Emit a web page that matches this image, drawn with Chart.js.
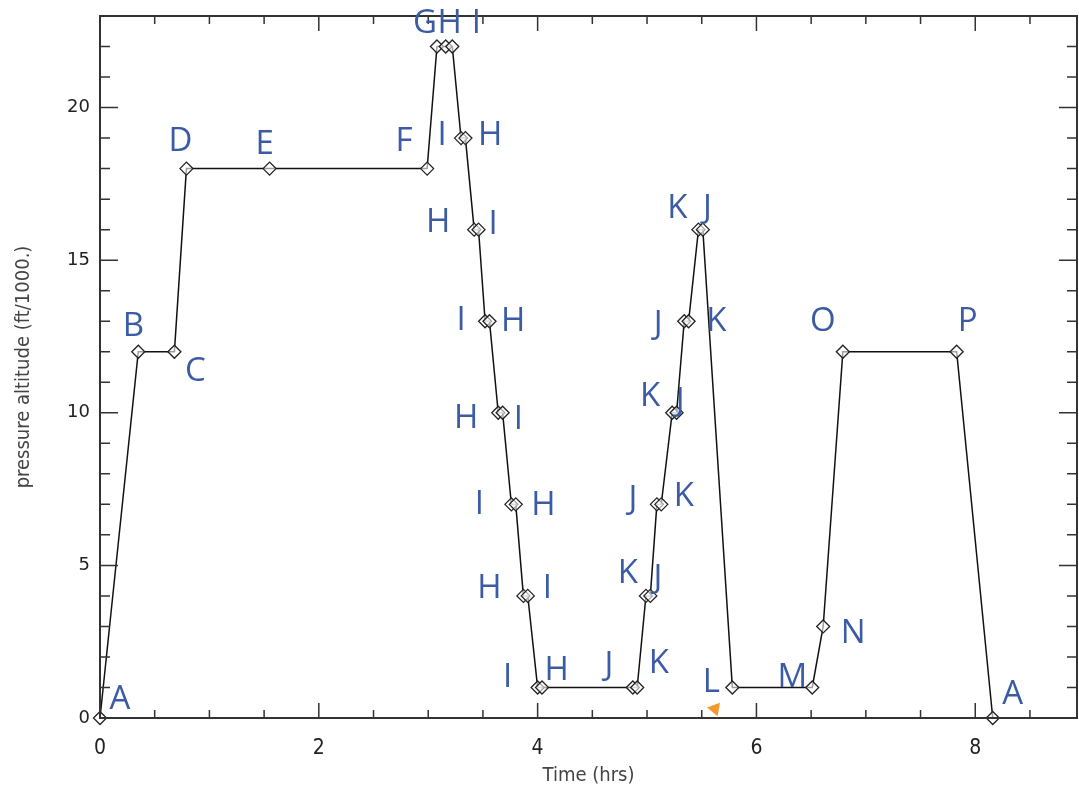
<!DOCTYPE html>
<html>
<head>
<meta charset="utf-8">
<script src="https://cdn.jsdelivr.net/npm/chart.js@4"></script>
<style>
  body { margin: 0; background: #fff; }
  #wrap { width: 1079px; height: 794px; }
</style>
</head>
<body>
<div id="wrap"><canvas id="flightChart" width="1079" height="794"></canvas></div>
<script>
// flight profile: time (hrs) vs pressure altitude (ft/1000)
const times = [0, 0.35, 0.68, 0.79, 1.55, 2.99, 3.08, 3.16, 3.22,
  3.30, 3.34, 3.42, 3.46, 3.52, 3.56, 3.64, 3.68, 3.76, 3.80, 3.87, 3.91, 4.00, 4.04,
  4.87, 4.91, 4.99, 5.03, 5.09, 5.13, 5.23, 5.27, 5.34, 5.38, 5.47, 5.51,
  5.78, 6.51, 6.61, 6.79, 7.83, 8.16];
const altitudes = [0, 12, 12, 18, 18, 18, 22, 22, 22,
  19, 19, 16, 16, 13, 13, 10, 10, 7, 7, 4, 4, 1, 1,
  1, 1, 4, 4, 7, 7, 10, 10, 13, 13, 16, 16,
  1, 1, 3, 12, 12, 0];

// orange marker near L
const markerTime = [5.62];
const markerAlt = [0.3];

const xTicks = [0, 2, 4, 6, 8];
const yTicks = [0, 5, 10, 15, 20];

// waypoint letters, attached to a point index
const labelText = ['A', 'B', 'C', 'D', 'E', 'F', 'G', 'H', 'I',
  'I', 'H', 'H', 'I', 'I', 'H', 'H', 'I', 'I', 'H', 'H', 'I', 'I', 'H',
  'J', 'K', 'K', 'J', 'J', 'K', 'K', 'J', 'J', 'K', 'K', 'J',
  'L', 'M', 'N', 'O', 'P', 'A'];
const labelPoint = [0, 1, 2, 3, 4, 5, 6, 7, 8,
  9, 9, 11, 11, 13, 13, 15, 15, 17, 17, 19, 19, 21, 21,
  23, 23, 25, 25, 27, 27, 29, 29, 31, 31, 33, 33,
  35, 36, 37, 38, 39, 40];
// pixel offsets of each letter from its point
const labelOffset = [[20, -18], [-5, -25], [21, 20], [-6, -27], [-5, -24], [-23, -27], [-12, -23], [4, -23], [24, -23],
  [-19, -2], [29, -2], [-36, -7], [19, -5], [-24, -1], [28, 0], [-32, 6], [20, 7], [-32, 0], [32, 1], [-34, -7], [24, -7], [-30, -10], [19, -17],
  [-24, -22], [26, -24], [-18, -22], [12, -17], [-24, -5], [27, -8], [-22, -16], [8, -11], [-26, 3], [32, 0], [-21, -21], [9, -21],
  [-21, -5], [-20, -10], [30, 7], [-20, -30], [11, -30], [20, -23]];

const boxAndTicks = {
  id: 'boxAndTicks',
  afterDatasetsDraw(chart) {
    const ctx = chart.ctx;
    const a = chart.chartArea;
    const xs = chart.scales.x, ys = chart.scales.y;
    ctx.save();
    ctx.strokeStyle = '#333';
    ctx.lineWidth = 1.5;
    ctx.beginPath();
    for (let v = 0; v <= 23; v += 1) {
      const py = ys.getPixelForValue(v);
      const len = v % 5 === 0 ? 18 : 10;
      ctx.moveTo(a.left, py); ctx.lineTo(a.left + len, py);
      ctx.moveTo(a.right, py); ctx.lineTo(a.right - len, py);
    }
    for (let v = 0; v <= 9; v += 0.5) {
      const px = xs.getPixelForValue(v);
      if (px > a.right) break;
      const len = v % 2 === 0 ? 15 : 8;
      ctx.moveTo(px, a.bottom); ctx.lineTo(px, a.bottom - len);
      ctx.moveTo(px, a.top); ctx.lineTo(px, a.top + len);
    }
    ctx.stroke();
    ctx.lineWidth = 2;
    ctx.strokeRect(a.left, a.top, a.right - a.left, a.bottom - a.top);

    // waypoint letters
    const pts = chart.getDatasetMeta(0).data;
    ctx.fillStyle = '#3B5BA5';
    ctx.font = '33px "Open Sans", sans-serif';
    ctx.textAlign = 'center';
    ctx.textBaseline = 'middle';
    labelText.forEach((t, i) => {
      const p = pts[labelPoint[i]];
      ctx.fillText(t, p.x + labelOffset[i][0], p.y + labelOffset[i][1]);
    });
    ctx.restore();
  }
};

new Chart(document.getElementById('flightChart'), {
  type: 'scatter',
  data: {
    datasets: [{
      data: times.map((t, i) => ({ x: t, y: altitudes[i] })),
      showLine: true,
      borderColor: '#111',
      borderWidth: 1.5,
      pointStyle: 'rectRot',
      pointRadius: 6.5,
      pointBorderWidth: 1.3,
      pointBorderColor: '#222',
      pointBackgroundColor: 'rgba(255,255,255,0.6)',
      clip: false
    }, {
      data: markerTime.map((t, i) => ({ x: t, y: markerAlt[i] })),
      pointStyle: 'triangle',
      rotation: 160,
      pointRadius: 8,
      pointBorderWidth: 0,
      pointBackgroundColor: '#F39A2E',
      clip: false
    }]
  },
  options: {
    responsive: false,
    animation: false,
    layout: { autoPadding: false, padding: { top: 16, right: 2, left: 0, bottom: 0 } },
    plugins: { legend: { display: false }, tooltip: { enabled: false } },
    scales: {
      x: {
        type: 'linear', min: 0, max: 8.93,
        afterBuildTicks: s => { s.ticks = xTicks.map(v => ({ value: v })); },
        afterFit: s => { s.height = 76; s.paddingRight = 0; s.paddingLeft = 0; },
        grid: { display: false, drawTicks: false },
        border: { display: false },
        ticks: { padding: 18, color: '#222', font: { family: '"Liberation Sans Narrow", "DejaVu Sans Condensed", sans-serif', size: 21 } },
        title: { display: true, text: 'Time (hrs)', color: '#444', padding: { bottom: 6, top: 0 },
          font: { family: '"Liberation Sans Narrow", "DejaVu Sans Condensed", sans-serif', size: 20 } }
      },
      y: {
        type: 'linear', min: 0, max: 23,
        afterBuildTicks: s => { s.ticks = yTicks.map(v => ({ value: v })); },
        afterFit: s => { s.width = 100; s.paddingTop = 0; s.paddingBottom = 0; },
        grid: { display: false, drawTicks: false },
        border: { display: false },
        ticks: { padding: 10, color: '#222', font: { family: '"DejaVu Sans", sans-serif', size: 18 } },
        title: { display: true, text: 'pressure altitude (ft/1000.)', color: '#444', padding: { top: 12, bottom: 0 },
          font: { family: '"Liberation Sans Narrow", "DejaVu Sans Condensed", sans-serif', size: 20 } }
      }
    }
  },
  plugins: [boxAndTicks]
});
</script>
</body>
</html>
